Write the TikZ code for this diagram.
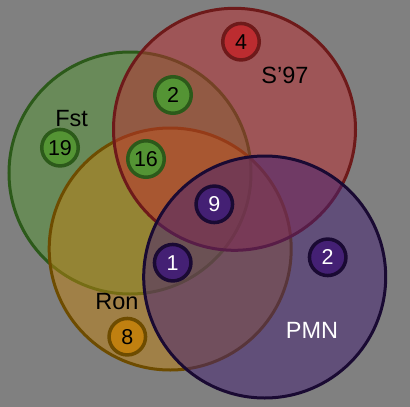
\documentclass[tikz,border=0pt]{standalone}
\usepackage{fontspec}
\setmainfont{Liberation Sans}
\definecolor{bg}{HTML}{808080}
\definecolor{cG}{RGB}{84,148,52}
\definecolor{cR}{RGB}{188,44,48}
\definecolor{cO}{RGB}{192,128,16}
\definecolor{cP}{RGB}{68,32,116}
\definecolor{sG}{HTML}{2C5A1A}
\definecolor{sR}{HTML}{6E1A1A}
\definecolor{sO}{HTML}{6E4C00}
\definecolor{sP}{HTML}{1A0A33}
\begin{document}
\begin{tikzpicture}[x=1pt,y=-1pt,
  set/.style={circle, minimum size=242pt, inner sep=0pt, line width=3pt, fill opacity=0.5, draw opacity=1},
  num/.style={circle, minimum size=36.5pt, inner sep=0pt, line width=3.5pt, font=\fontsize{21.5}{25}\selectfont},
  lab/.style={font=\fontsize{23.5}{28}\selectfont, inner sep=0pt}]
\fill[bg] (0,0) rectangle (410,407);
\useasboundingbox (0,0) rectangle (410,407);
% sets
\node[set, draw=sG, fill=cG] (fst) at (130,173) {};
\node[set, draw=sO, fill=cO] (ron) at (170.2,249) {};
\node[set, draw=sR, fill=cR] (s97) at (234.5,129.3) {};
\node[set, draw=sP, fill=cP] (pmn) at (264.7,277) {};
% labels
\node[lab, text=black] (lfst) at (71.7,118.3) {Fst};
\node[lab, text=black] (ls97) at (285,75.5) {S’97};
\node[lab, text=black] (lron) at (117,301.7) {Ron};
\node[lab, text=white] (lpmn) at (312,330.8) {PMN};
% counts
\node[num, draw=sR, fill=cR, text=black] (n4) at (241,41.7) {4};
\node[num, draw=sG, fill=cG, text=black] (n2g) at (173,95) {2};
\node[num, draw=sG, fill=cG, text=black] (n19) at (60,147.7) {19};
\node[num, draw=sG, fill=cG, text=black] (n16) at (146,159) {16};
\node[num, draw=sP, fill=cP, text=white] (n9) at (214.3,204.3) {9};
\node[num, draw=sP, fill=cP, text=white] (n1) at (172.7,262.7) {1};
\node[num, draw=sP, fill=cP, text=white] (n2p) at (327.7,257.3) {2};
\node[num, draw=sO, fill=cO, text=black] (n8) at (127.3,336.7) {8};
\end{tikzpicture}
\end{document}
